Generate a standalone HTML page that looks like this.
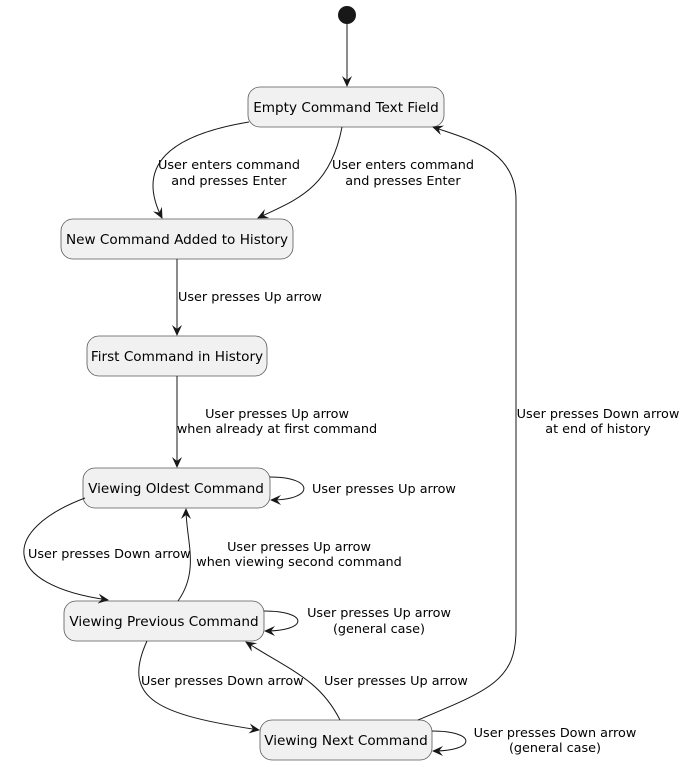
<!DOCTYPE html>
<html><head><meta charset="utf-8"><style>
html,body{margin:0;padding:0;background:#fff;}
svg{display:block;}
text{font-family:"DejaVu Sans","Liberation Sans",sans-serif;fill:#000;}
.b{font-size:13.6px;}
.l{font-size:12.8px;}
</style></head><body>
<svg width="686" height="767" viewBox="0 0 686 767" xmlns="http://www.w3.org/2000/svg">
<defs>
<marker id="a" markerWidth="12" markerHeight="10" refX="10" refY="5" orient="auto" markerUnits="userSpaceOnUse">
<path d="M0,0 L11,5 L0,10 L4,5 Z" fill="#181818"/>
</marker>
</defs>
<circle cx="347" cy="15" r="9" fill="#181818"/>
<g fill="#F1F1F1" stroke="#5a5a5a" stroke-width="0.8">
<rect x="248" y="87" width="196" height="40" rx="12"/>
<rect x="61" y="219" width="232" height="40" rx="12"/>
<rect x="87" y="336" width="180" height="40" rx="12"/>
<rect x="83" y="468" width="187" height="40" rx="12"/>
<rect x="64" y="601" width="200" height="40" rx="12"/>
<rect x="260" y="720" width="172" height="40" rx="12"/>
</g>
<g class="b" text-anchor="middle">
<text x="346" y="112">Empty Command Text Field</text>
<text x="177" y="244">New Command Added to History</text>
<text x="177" y="361">First Command in History</text>
<text x="176" y="493">Viewing Oldest Command</text>
<text x="164" y="626">Viewing Previous Command</text>
<text x="346" y="745">Viewing Next Command</text>
</g>
<g fill="none" stroke="#181818" stroke-width="1" marker-end="url(#a)">
<path d="M347,24 L347,86"/>
<path d="M249,122 C170,135 135,165 162,218"/>
<path d="M342,127 C330,190 295,200 258,218"/>
<path d="M177,259 L177,335"/>
<path d="M177,376 L177,467"/>
<path d="M270,477 C315,477 315,500 271,500"/>
<path d="M85,498 C0,530 0,585 108,600"/>
<path d="M178,601 C200,570 186,540 186,509"/>
<path d="M264,611 C309,611 309,631 265,631"/>
<path d="M147,641 C120,700 160,715 259,730"/>
<path d="M340,720 C320,680 290,670 246,642"/>
<path d="M418,720 C490,690 516,680 516,630 L516,200 C516,150 470,140 433,127"/>
<path d="M432,731 C477,731 477,751 433,751"/>
</g>
<g class="l">
<text x="229" y="169" text-anchor="middle">User enters command</text>
<text x="229" y="185" text-anchor="middle">and presses Enter</text>
<text x="403" y="169" text-anchor="middle">User enters command</text>
<text x="403" y="185" text-anchor="middle">and presses Enter</text>
<text x="178" y="301">User presses Up arrow</text>
<text x="277" y="418" text-anchor="middle">User presses Up arrow</text>
<text x="277" y="433" text-anchor="middle">when already at first command</text>
<text x="312" y="493">User presses Up arrow</text>
<text x="28" y="558">User presses Down arrow</text>
<text x="299" y="551" text-anchor="middle">User presses Up arrow</text>
<text x="299" y="566" text-anchor="middle">when viewing second command</text>
<text x="379" y="617" text-anchor="middle">User presses Up arrow</text>
<text x="379" y="633" text-anchor="middle">(general case)</text>
<text x="141" y="685">User presses Down arrow</text>
<text x="324" y="685">User presses Up arrow</text>
<text x="598" y="418" text-anchor="middle">User presses Down arrow</text>
<text x="598" y="433" text-anchor="middle">at end of history</text>
<text x="555" y="737" text-anchor="middle">User presses Down arrow</text>
<text x="555" y="752" text-anchor="middle">(general case)</text>
</g>
</svg>
</body></html>
